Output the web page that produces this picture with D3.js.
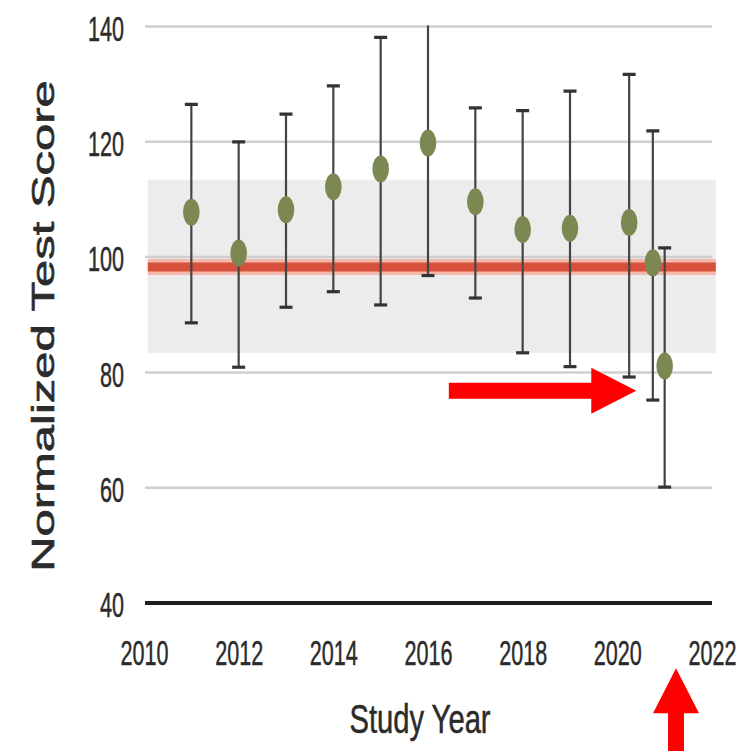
<!DOCTYPE html>
<html>
<head>
<meta charset="utf-8">
<script src="https://cdn.jsdelivr.net/npm/d3@7"></script>
<style>
  html, body { margin: 0; padding: 0; background: #fff; }
  svg { display: block; font-family: "Liberation Sans", Arial, Helvetica, sans-serif; }
</style>
</head>
<body>
<svg id="chart" width="743" height="751"></svg>
<script>
// Yearly study results: mean normalized score with its spread
const years  = [2011, 2012, 2013, 2014, 2015, 2016, 2017, 2018, 2019, 2020.25, 2020.75, 2021];
const means  = [107.8, 100.7, 108.2, 112.2, 115.3, 119.8, 109.6, 104.8, 105.0, 106.0, 99.0, 81.1];
const upper  = [126.5, 120.0, 124.8, 129.7, 138.1, 142.0, 125.9, 125.4, 128.8, 131.7, 121.9, 101.6];
const lower  = [88.6, 80.9, 91.3, 94.0, 91.7, 96.8, 92.9, 83.4, 81.0, 79.2, 75.2, 60.1];

// Reference level and its normal range
const referenceLevel = [98.3];
const normalRange    = [83.4, 113.4];
const referenceSpan  = [2010.08, 2022.08];

// Axis ticks
const yTicks = [40, 60, 80, 100, 120, 140];
const xTicks = [2010, 2012, 2014, 2016, 2018, 2020, 2022];

// Highlight arrows, in data units (year, score)
const arrowFrom = [[2016.44, 76.8], [2021.24, 13.0]];
const arrowTo   = [[2020.40, 76.8], [2021.24, 28.7]];

const svg = d3.select("#chart");
const W = 743, H = 751;
svg.append("rect").attr("width", W).attr("height", H).attr("fill", "#fff");

const x = d3.scaleLinear().domain([2010, 2022]).range([144, 712]);
const y = d3.scaleLinear().domain([40, 140]).range([603, 26.5]);

// clip for the plotting area
svg.append("defs").append("clipPath").attr("id", "plot")
  .append("rect")
  .attr("x", 0).attr("y", y(140) - 1)
  .attr("width", W).attr("height", y(40) - y(140) + 2);

// normal range band
svg.append("rect")
  .attr("x", x(referenceSpan[0]))
  .attr("width", x(referenceSpan[1]) - x(referenceSpan[0]))
  .attr("y", y(normalRange[1]))
  .attr("height", y(normalRange[0]) - y(normalRange[1]))
  .attr("fill", "#ececed");

// horizontal gridlines
svg.append("g").selectAll("line")
  .data(yTicks.filter(d => d !== 40))
  .join("line")
  .attr("x1", x(2010) + 1).attr("x2", x(2022))
  .attr("y1", d => y(d)).attr("y2", d => y(d))
  .attr("stroke", "#cfcfcf").attr("stroke-width", 2.5);

// reference level line with soft halo
const ref = svg.append("g");
ref.selectAll("line.halo").data(referenceLevel).join("line")
  .attr("class", "halo")
  .attr("x1", x(referenceSpan[0])).attr("x2", x(referenceSpan[1]))
  .attr("y1", d => y(d)).attr("y2", d => y(d))
  .attr("stroke", "#f5b8aa").attr("stroke-width", 16);
ref.selectAll("line.core").data(referenceLevel).join("line")
  .attr("class", "core")
  .attr("x1", x(referenceSpan[0])).attr("x2", x(referenceSpan[1]))
  .attr("y1", d => y(d)).attr("y2", d => y(d))
  .attr("stroke", "#d6503b").attr("stroke-width", 9);

// baseline at 40
svg.append("line")
  .attr("x1", x(2010) + 1).attr("x2", x(2022))
  .attr("y1", y(40)).attr("y2", y(40))
  .attr("stroke", "#1e1e1e").attr("stroke-width", 4);

// error bars and markers
const rows = years.map((yr, i) => ({ yr, m: means[i], hi: upper[i], lo: lower[i] }));
const pts = svg.append("g").attr("clip-path", "url(#plot)");
const capW = 6.5;

pts.selectAll("line.bar").data(rows).join("line")
  .attr("class", "bar")
  .attr("x1", d => x(d.yr)).attr("x2", d => x(d.yr))
  .attr("y1", d => y(d.hi)).attr("y2", d => y(d.lo))
  .attr("stroke", "#444").attr("stroke-width", 2.2);

pts.selectAll("line.capHi").data(rows).join("line")
  .attr("class", "capHi")
  .attr("x1", d => x(d.yr) - capW).attr("x2", d => x(d.yr) + capW)
  .attr("y1", d => y(d.hi)).attr("y2", d => y(d.hi))
  .attr("stroke", "#333").attr("stroke-width", 3.2);

pts.selectAll("line.capLo").data(rows).join("line")
  .attr("class", "capLo")
  .attr("x1", d => x(d.yr) - capW).attr("x2", d => x(d.yr) + capW)
  .attr("y1", d => y(d.lo)).attr("y2", d => y(d.lo))
  .attr("stroke", "#333").attr("stroke-width", 3.2);

pts.selectAll("ellipse").data(rows).join("ellipse")
  .attr("cx", d => x(d.yr)).attr("cy", d => y(d.m))
  .attr("rx", 8.3).attr("ry", 13.5)
  .attr("fill", "#7c8852");

// axes (labels only); glyphs are drawn narrow
const txt = "#2b2b2b";
const narrow = 0.6;
const yPad = 20;
const yAxis = svg.append("g")
  .attr("transform", `translate(${x(2010)},0)`)
  .call(d3.axisLeft(y).tickValues(yTicks).tickSize(0).tickPadding(yPad).tickFormat(d3.format("d")));
yAxis.select(".domain").remove();
yAxis.selectAll("text")
  .attr("x", 0)
  .attr("transform", `translate(${-yPad},0) scale(${narrow},1)`)
  .attr("font-size", 36).attr("fill", txt).attr("dy", "0.38em")
  .attr("stroke", txt).attr("stroke-width", 0.5)
  .attr("font-family", "Liberation Sans, Arial, sans-serif");

const xAxis = svg.append("g")
  .attr("transform", `translate(0,${y(40)})`)
  .call(d3.axisBottom(x).tickValues(xTicks).tickSize(0).tickPadding(36).tickFormat(d3.format("d")));
xAxis.select(".domain").remove();
xAxis.selectAll("text")
  .attr("transform", `scale(${narrow},1)`)
  .attr("font-size", 36).attr("fill", txt)
  .attr("stroke", txt).attr("stroke-width", 0.5)
  .attr("font-family", "Liberation Sans, Arial, sans-serif");

// axis titles
svg.append("text")
  .attr("transform", "translate(420,733) scale(0.73,1)")
  .attr("text-anchor", "middle")
  .attr("font-size", 40).attr("fill", txt)
  .attr("stroke", txt).attr("stroke-width", 0.5)
  .text("Study Year");

svg.append("text")
  .attr("transform", "translate(54,326) rotate(-90) scale(1.58,1)")
  .attr("text-anchor", "middle")
  .attr("font-size", 31).attr("fill", txt)
  .attr("stroke", txt).attr("stroke-width", 0.6)
  .text("Normalized Test Score");

// highlight arrows
const shaftHalf = 8, headHalf = 23, headLen = 45;
function arrowPath(a, b) {
  const x0 = x(a[0]), y0 = y(a[1]), x1 = x(b[0]), y1 = y(b[1]);
  const len = Math.hypot(x1 - x0, y1 - y0);
  const ux = (x1 - x0) / len, uy = (y1 - y0) / len;
  const nx = -uy, ny = ux;
  const bx = x1 - ux * headLen, by = y1 - uy * headLen;
  const p = d3.path();
  p.moveTo(x0 + nx * shaftHalf, y0 + ny * shaftHalf);
  p.lineTo(bx + nx * shaftHalf, by + ny * shaftHalf);
  p.lineTo(bx + nx * headHalf, by + ny * headHalf);
  p.lineTo(x1, y1);
  p.lineTo(bx - nx * headHalf, by - ny * headHalf);
  p.lineTo(bx - nx * shaftHalf, by - ny * shaftHalf);
  p.lineTo(x0 - nx * shaftHalf, y0 - ny * shaftHalf);
  p.closePath();
  return p.toString();
}
svg.append("g").selectAll("path")
  .data(arrowFrom.map((a, i) => [a, arrowTo[i]]))
  .join("path")
  .attr("d", d => arrowPath(d[0], d[1]))
  .attr("fill", "#ff0000");
</script>
</body>
</html>
